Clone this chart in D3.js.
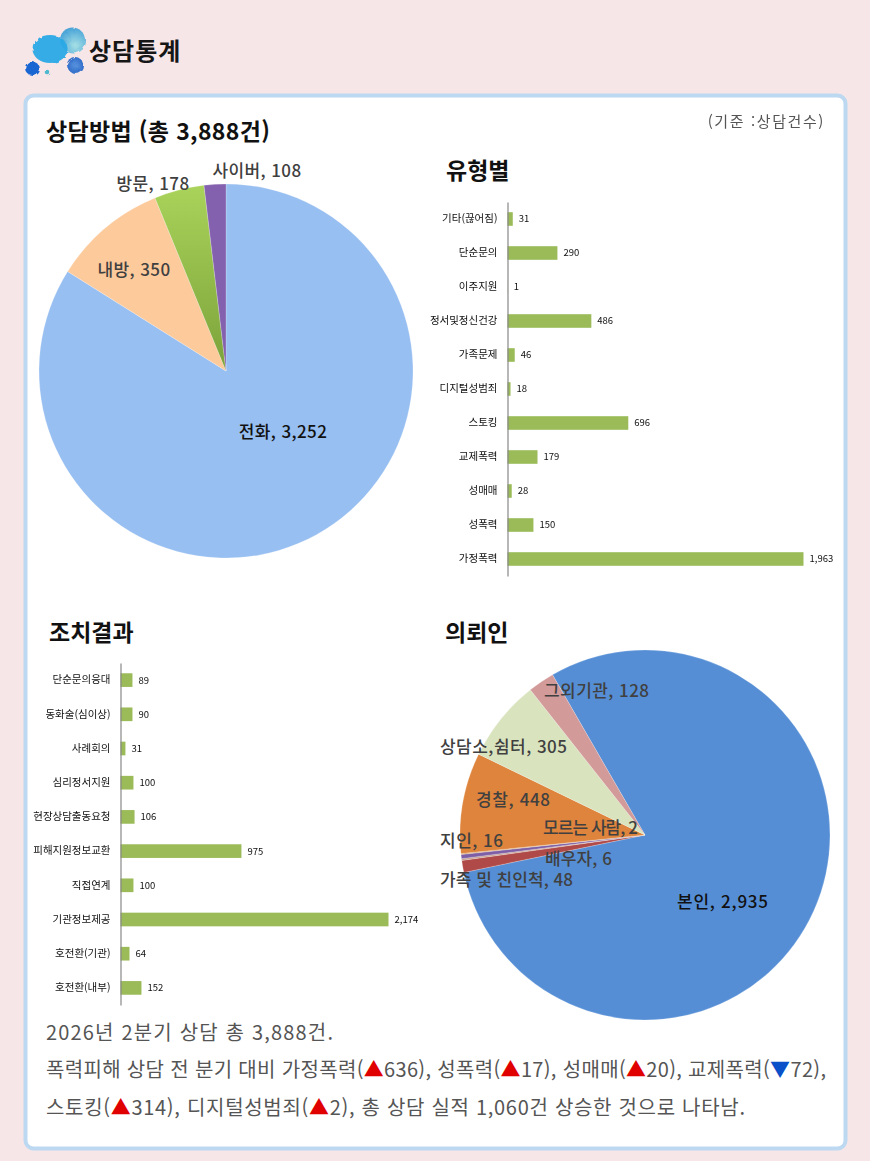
<!DOCTYPE html>
<html lang="ko"><head><meta charset="utf-8">
<script src="https://cdn.jsdelivr.net/npm/d3@7/dist/d3.min.js"></script>
<style>
html,body{margin:0;padding:0;background:#f6e6e7}
svg{display:block}
text{font-family:"Noto Sans CJK KR","Noto Sans",sans-serif}
</style></head><body><svg id="c" width="870" height="1161"></svg>
<script>
// ---- data ----
const methodNames = ["전화","내방","방문","사이버"];
const methodValues = [3252,350,178,108];
// drawn slice sizes (they differ a little from the printed numbers)
const methodDrawn = [3263,384,168,73];

const clientNames = ["본인","가족 및 친인척","배우자","지인","모르는 사람","경찰","상담소,쉼터","그외기관"];
const clientValues = [2935,48,6,16,2,448,305,128];
const clientDrawn = [3121,41,6,14,3,343,279,90];

const typeNames = ["기타(끊어짐)","단순문의","이주지원","정서및정신건강","가족문제","디지털성범죄","스토킹","교제폭력","성매매","성폭력","가정폭력"];
const typeValues = [31,290,1,486,46,18,696,179,28,150,1963];
const typeDrawn = [35,331,1,556,48,20,801,199,28,172,1963];

const actionNames = ["단순문의응대","동화술(심이상)","사례회의","심리정서지원","현장상담출동요청","피해지원정보교환","직접연계","기관정보제공","호전환(기관)","호전환(내부)"];
const actionValues = [89,90,31,100,106,975,100,2174,64,152];
const actionDrawn = [97,97,40,105,114,981,105,2174,73,170];

const noteLines = [
  [["2026년 2분기 상담 총 3,888건.","t"]],
  [["폭력피해 상담 전 분기 대비 가정폭력(","t"],["▲","r"],["636), 성폭력(","t"],["▲","r"],["17), 성매매(","t"],["▲","r"],["20), 교제폭력(","t"],["▼","b"],["72),","t"]],
  [["스토킹(","t"],["▲","r"],["314), 디지털성범죄(","t"],["▲","r"],["2), 총 상담 실적 1,060건 상승한 것으로 나타남.","t"]]
];

// ---- layout and style ----
const svg = d3.select("#c");
const defs = svg.append("defs");
defs.append("filter").attr("id","soft").append("feGaussianBlur").attr("stdDeviation",0.45);
defs.append("filter").attr("id","wob").call(f=>{
  f.append("feTurbulence").attr("baseFrequency",0.12).attr("numOctaves",2).attr("seed",4);
  f.append("feDisplacementMap").attr("in","SourceGraphic").attr("scale",1.5);
});
svg.append("rect").attr("width",870).attr("height",1161).attr("fill","#f6e6e7");
svg.append("rect").attr("x",25.5).attr("y",95.5).attr("width",820).attr("height",1053).attr("rx",8)
  .attr("fill","#fff").attr("stroke","#bdd8f1").attr("stroke-width",4);

// logo blobs
const lg = defs.append("radialGradient").attr("id","lg").attr("cx",.6).attr("cy",.7).attr("r",.7);
lg.append("stop").attr("offset",0).attr("stop-color","#a0dfe4");
lg.append("stop").attr("offset",1).attr("stop-color","#3f9fd6");
const lm = defs.append("radialGradient").attr("id","lm").attr("cx",.5).attr("cy",.5).attr("r",.6);
lm.append("stop").attr("offset",0).attr("stop-color","#4f8fdc");
lm.append("stop").attr("offset",1).attr("stop-color","#1f5fc4");
const logo = [[72.5,40,12.5,12.5,"url(#lg)"],[50,49,17.5,14,"#2aa9e6"],[75,65,8,8,"url(#lm)"],[32,68,7,7,"#1160d2"],[47,72,2.3,2.3,"#45b5cf"]];
svg.append("g").attr("filter","url(#wob)").selectAll("ellipse").data(logo).join("ellipse")
  .attr("cx",d=>d[0]).attr("cy",d=>d[1]).attr("rx",d=>d[2]).attr("ry",d=>d[3]).attr("fill",d=>d[4]).attr("opacity",.95);

function text(x,y,s,size,weight,fill,anchor,ls){
  return svg.append("text").attr("x",x).attr("y",y).attr("dy","0.36em").attr("font-size",size)
    .attr("font-weight",weight).attr("fill",fill).attr("text-anchor",anchor||"start")
    .attr("letter-spacing",ls||0).text(s);
}
text(89,51,"상담통계",24,700,"#161616","start",1);
text(46,132,"상담방법 (총 3,888건)",23,600,"#111","start",.35);
text(446,171,"유형별",23,600,"#111");
text(49,633,"조치결과",23,600,"#111");
text(445,633,"의뢰인",23,600,"#111");
text(825,122,"(기준 :상담건수)",15,400,"#555","end",1.6).attr("filter","url(#soft)");

function pie(cx,cy,r,startDeg,vals,fills){
  const arcs = d3.pie().sort(null).value(d=>d).startAngle(startDeg*Math.PI/180).endAngle((startDeg+360)*Math.PI/180)(vals);
  const arc = d3.arc().innerRadius(0).outerRadius(r);
  svg.append("g").attr("transform",`translate(${cx},${cy})`).selectAll("path").data(arcs).join("path")
    .attr("d",arc).attr("fill",(d,i)=>fills[i]).attr("stroke","#fff").attr("stroke-opacity",.35).attr("stroke-width",.6);
}
const greenGrad = defs.append("linearGradient").attr("id","gg").attr("x1",0).attr("y1",0).attr("x2",0).attr("y2",1);
greenGrad.append("stop").attr("offset",0).attr("stop-color","#a9d35a");
greenGrad.append("stop").attr("offset",1).attr("stop-color","#7ba23a");
pie(226,371,187,0,methodDrawn,["#98bff1","#fdca9c","url(#gg)","#8461ae"]);
pie(645,835,185,-30,clientDrawn,["#558ed5","#b04a48","#c8a090","#7e5fa6","#d09a60","#de843c","#d9e4bf","#d39a9a"]);

const methodPos = [[283,432],[134,270],[153,184],[257,171]];
methodNames.forEach((n,i)=>text(methodPos[i][0],methodPos[i][1],`${n}, ${d3.format(",")(methodValues[i])}`,17,500,i==0?"#111":"#404040","middle",.4));
const clientPos = [[677,902],[440,880],[545,859],[440,841],[543,828],[476,800],[440,747],[544,691]];
const clientLabelWidth = [91,133,67,63,95,74,127,105];
clientNames.forEach((n,i)=>text(clientPos[i][0],clientPos[i][1],`${n}, ${d3.format(",")(clientValues[i])}`,17,500,i==0?"#111":"#404040","start")
  .attr("textLength",clientLabelWidth[i]).attr("lengthAdjust","spacing"));

function bars(x0,y0,y1,maxLen,names,vals,drawn){
  const y = d3.scaleBand().domain(names).range([y0,y1]).paddingInner(.6).paddingOuter(.3);
  const x = d3.scaleLinear().domain([0,d3.max(drawn)]).range([x0,x0+maxLen]);
  const g = svg.append("g");
  g.selectAll("rect").data(names).join("rect").attr("x",x0).attr("y",d=>y(d)).attr("height",y.bandwidth())
    .attr("width",(d,i)=>x(drawn[i])-x0).attr("fill","#9bbb59");
  const yAxis = d3.axisLeft(y).tickSize(0).tickPadding(10);
  const ag = g.append("g").attr("transform",`translate(${x0},0)`).call(yAxis);
  ag.select(".domain").attr("stroke","#888").attr("stroke-width",1.2);
  ag.selectAll("text").attr("font-size",10.5).attr("fill","#111").attr("filter","url(#soft)")
    .style("font-family",'"Noto Sans CJK KR",sans-serif');
  g.selectAll("text.v").data(names).join("text").attr("class","v")
    .attr("x",(d,i)=>x(drawn[i])+6).attr("y",d=>y(d)+y.bandwidth()/2).attr("dy","0.36em")
    .attr("font-size",9.5).attr("fill","#111").attr("filter","url(#soft)")
    .text((d,i)=>d3.format(",")(vals[i]));
}
bars(507.5,202,576,296,typeNames,typeValues,typeDrawn);
bars(120.5,663,1005,268,actionNames,actionValues,actionDrawn);

const colors = {t:"#555",r:"#e00000",b:"#0a50c8"};
const noteY = [1033,1070,1108];
const noteWidth = [287,780,699];
noteLines.forEach((line,i)=>{
  const t = svg.append("text").attr("x",46).attr("y",noteY[i]).attr("dy","0.36em").attr("font-size",20).attr("font-weight",400)
    .attr("textLength",noteWidth[i]).attr("lengthAdjust","spacing");
  line.forEach(p=>t.append("tspan").attr("fill",colors[p[1]]).text(p[0]));
});
</script></body></html>
